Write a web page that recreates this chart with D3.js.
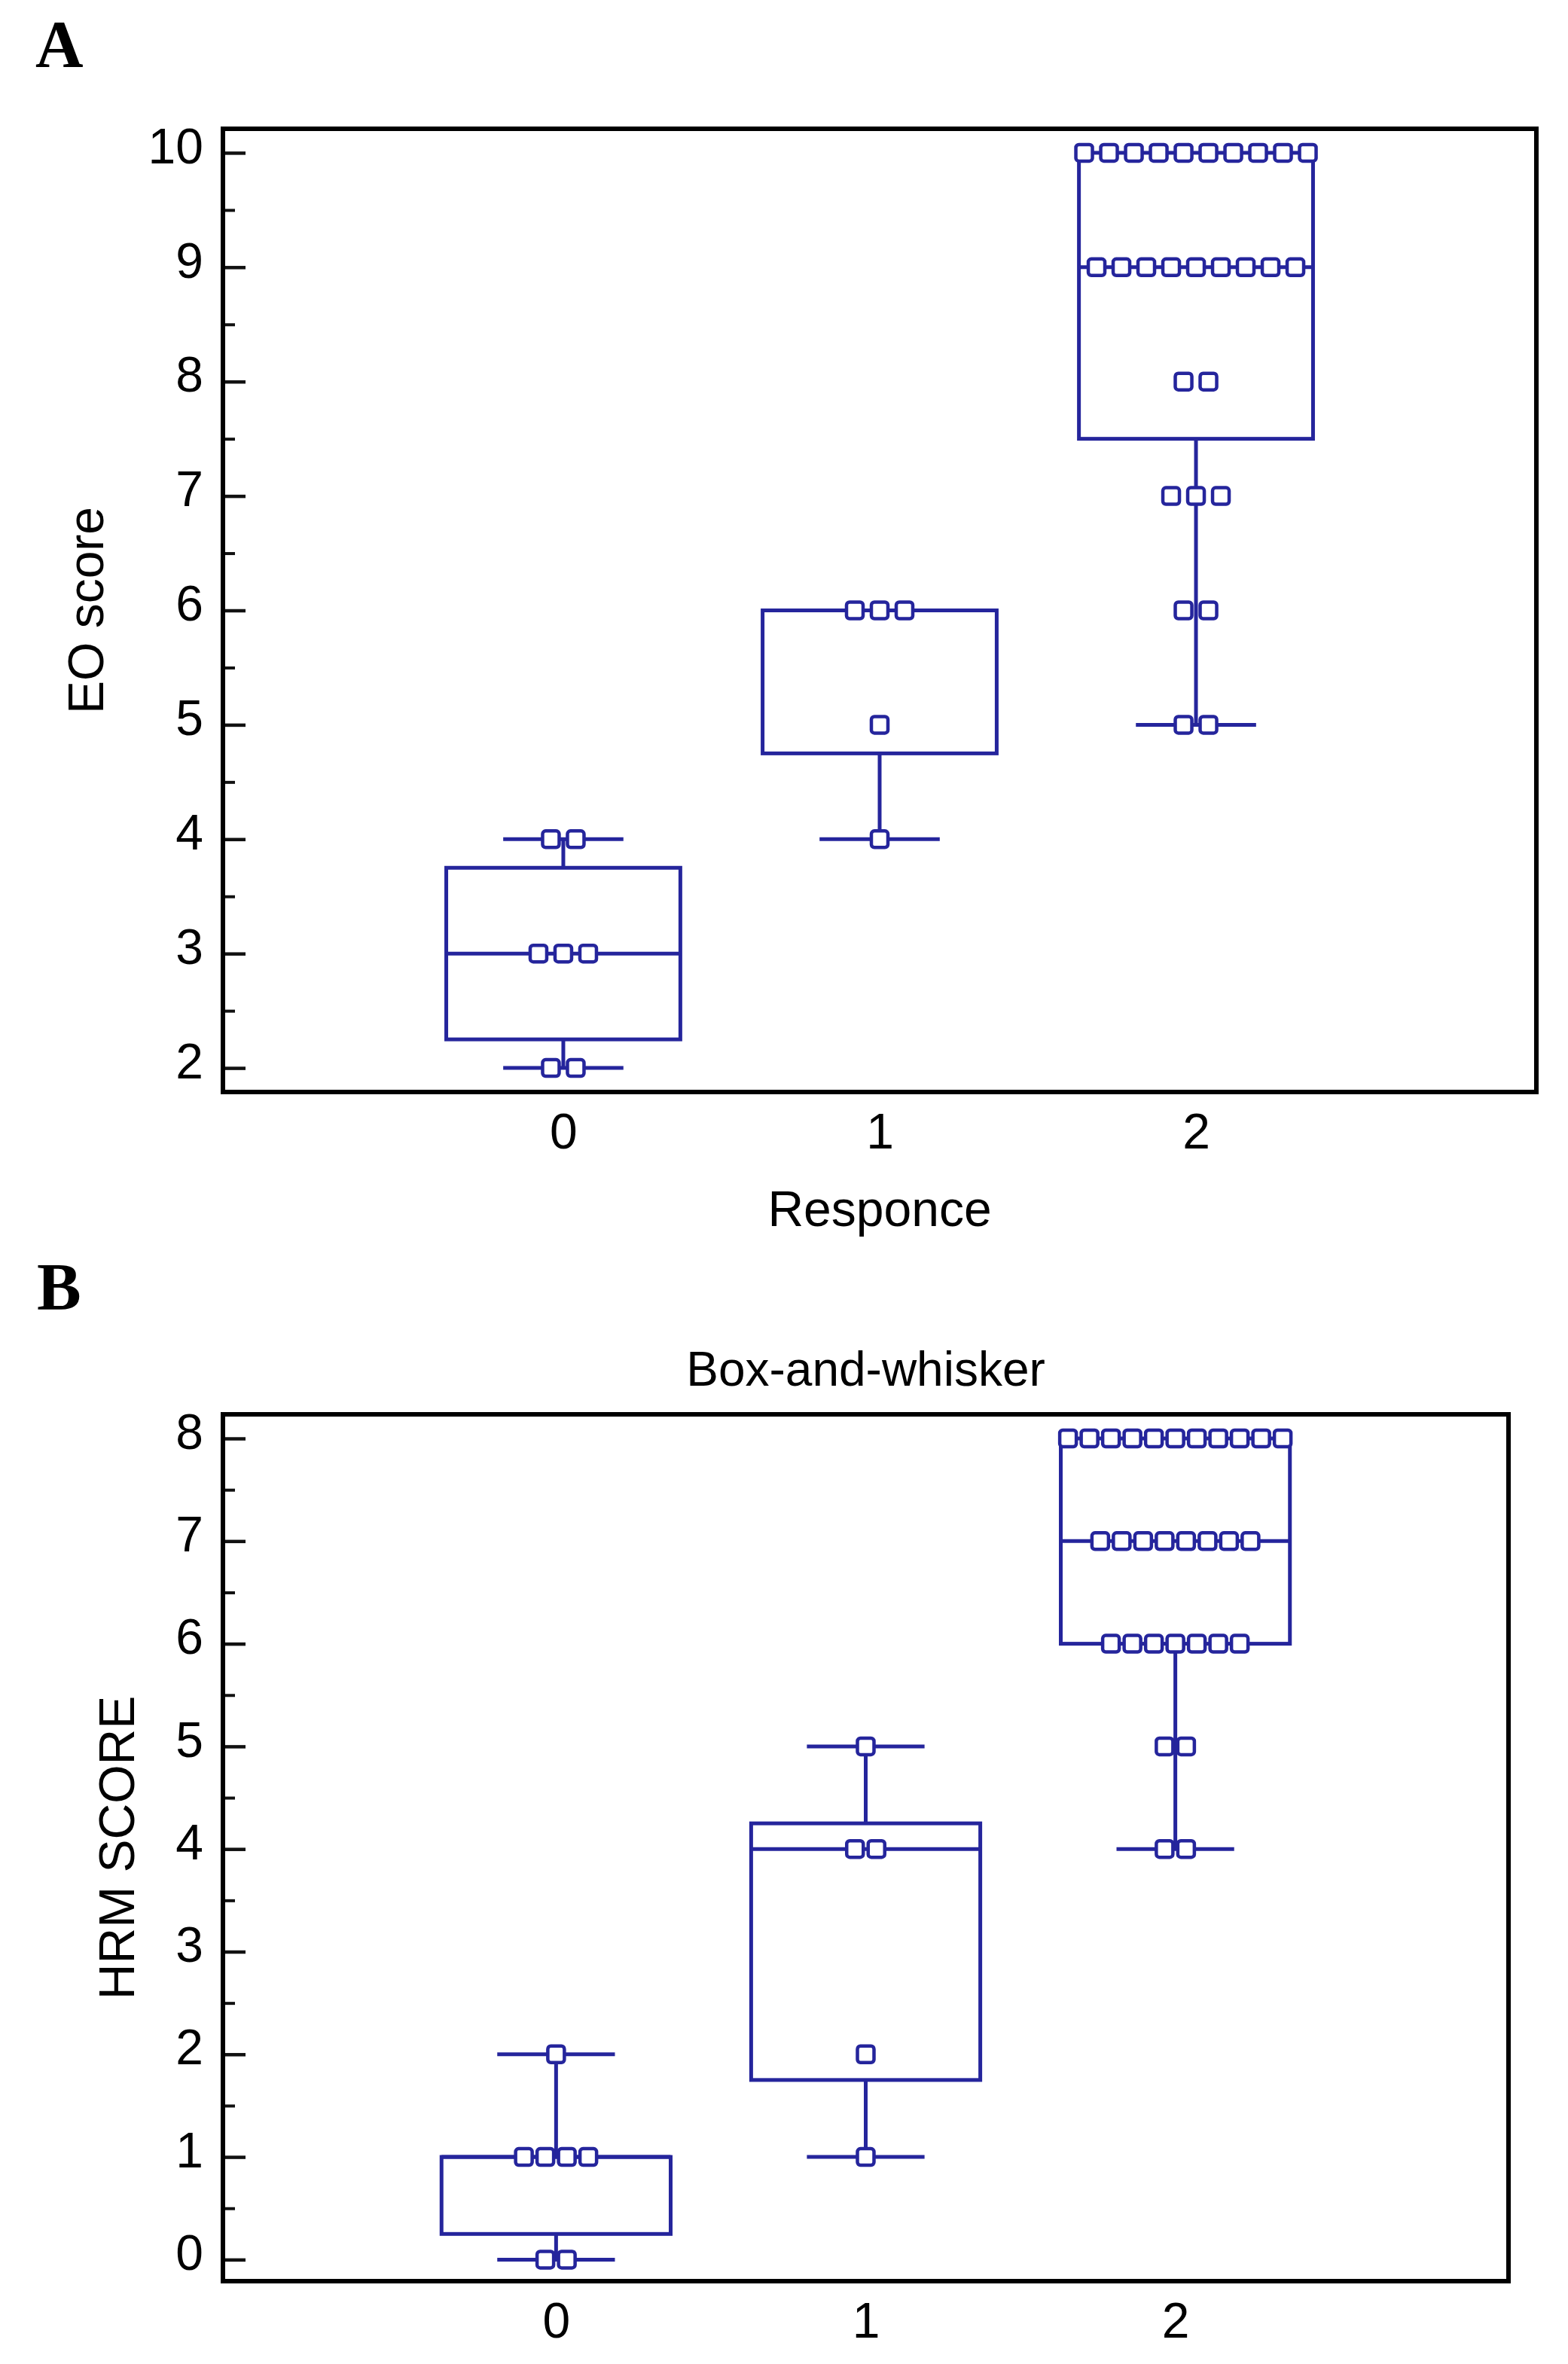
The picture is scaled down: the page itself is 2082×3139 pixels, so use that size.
<!DOCTYPE html>
<html>
<head>
<meta charset="utf-8">
<script src="https://cdn.jsdelivr.net/npm/d3@7"></script>
<style>
  body { margin: 0; background: #fff; }
</style>
</head>
<body>
<div class="chart"></div>
<script>
// categories (Responce groups)
var categories = ['0', '1', '2'];

// panel A: EO score
var eoQ1 = [2.25, 4.75, 7.5];
var eoMedian = [3, 6, 9];
var eoQ3 = [3.75, 6, 10];
var eoMin = [2, 4, 5];
var eoMax = [4, 6, 10];
var eoValues = [[2, 3, 4], [4, 5, 6], [5, 6, 7, 8, 9, 10]];
var eoCounts = [[2, 3, 2], [1, 1, 3], [2, 2, 3, 2, 9, 10]];
var eoTicks = [2, 3, 4, 5, 6, 7, 8, 9, 10];

// panel B: HRM SCORE
var hrmQ1 = [0.25, 1.75, 6];
var hrmMedian = [1, 4, 7];
var hrmQ3 = [1, 4.25, 8];
var hrmMin = [0, 1, 4];
var hrmMax = [2, 5, 8];
var hrmValues = [[0, 1, 2], [1, 2, 4, 5], [4, 5, 6, 7, 8]];
var hrmCounts = [[2, 4, 1], [1, 1, 2, 1], [2, 2, 7, 8, 11]];
var hrmTicks = [0, 1, 2, 3, 4, 5, 6, 7, 8];

var svgWidth = 2082;
var svgHeight = 3139;
var blue = '#25259c';
var sans = '"Liberation Sans", Arial, sans-serif';

var svg = d3.select('.chart').append('svg')
    .attr('width', svgWidth)
    .attr('height', svgHeight);

svg.append('rect').attr('width', svgWidth).attr('height', svgHeight).attr('fill', '#fff');

function drawPanel(p) {
    var g = svg.append('g');

    var x = d3.scalePoint().domain(categories).range([p.left, p.right]).padding(1.076);
    var y = d3.scaleLinear().domain(p.yDomain).range([p.bottom, p.top]);
    var step = x.step();
    var boxHalf = step * 0.37;
    var capHalf = step * 0.19;

    // minor ticks
    var minor = p.ticks.slice(0, -1).map(function(d) { return d + 0.5; });
    g.append('g')
        .attr('transform', 'translate(' + p.left + ',0)')
        .call(d3.axisLeft(y).tickValues(minor).tickSize(-16).tickFormat(''))
        .call(function(a) {
            a.select('.domain').remove();
            a.selectAll('line').attr('stroke', '#111').attr('stroke-width', 4);
        });

    // major ticks + labels
    g.append('g')
        .attr('transform', 'translate(' + p.left + ',0)')
        .call(d3.axisLeft(y).tickValues(p.ticks).tickSize(-30).tickPadding(26).tickFormat(d3.format('d')))
        .call(function(a) {
            a.select('.domain').remove();
            a.selectAll('line').attr('stroke', '#111').attr('stroke-width', 4.5);
            a.selectAll('text')
                .attr('font-size', 66)
                .attr('font-family', sans)
                .attr('fill', '#000')
                .attr('dy', '0.2em');
        });

    // x axis labels
    g.append('g')
        .attr('transform', 'translate(0,' + p.bottom + ')')
        .call(d3.axisBottom(x).tickSize(0).tickPadding(28))
        .call(function(a) {
            a.select('.domain').remove();
            a.selectAll('text')
                .attr('font-size', 66)
                .attr('font-family', sans)
                .attr('fill', '#000');
        });

    // frame
    g.append('rect')
        .attr('x', p.left)
        .attr('y', p.top)
        .attr('width', p.right - p.left)
        .attr('height', p.bottom - p.top)
        .attr('fill', 'none')
        .attr('stroke', '#000')
        .attr('stroke-width', 6);

    var boxes = g.selectAll('g.box')
        .data(categories)
        .enter()
        .append('g')
        .attr('class', 'box')
        .attr('fill', 'none')
        .attr('stroke', blue)
        .attr('stroke-width', 5);

    // lower whisker
    boxes.filter(function(d, i) { return p.min[i] < p.q1[i]; })
        .each(function(d) {
            var i = categories.indexOf(d);
            var b = d3.select(this);
            b.append('line')
                .attr('x1', x(d)).attr('x2', x(d))
                .attr('y1', y(p.q1[i])).attr('y2', y(p.min[i]));
            b.append('line')
                .attr('x1', x(d) - capHalf).attr('x2', x(d) + capHalf)
                .attr('y1', y(p.min[i])).attr('y2', y(p.min[i]));
        });

    // upper whisker
    boxes.filter(function(d, i) { return p.max[i] > p.q3[i]; })
        .each(function(d) {
            var i = categories.indexOf(d);
            var b = d3.select(this);
            b.append('line')
                .attr('x1', x(d)).attr('x2', x(d))
                .attr('y1', y(p.q3[i])).attr('y2', y(p.max[i]));
            b.append('line')
                .attr('x1', x(d) - capHalf).attr('x2', x(d) + capHalf)
                .attr('y1', y(p.max[i])).attr('y2', y(p.max[i]));
        });

    boxes.append('rect')
        .attr('x', function(d) { return x(d) - boxHalf; })
        .attr('y', function(d, i) { return y(p.q3[i]); })
        .attr('width', boxHalf * 2)
        .attr('height', function(d, i) { return y(p.q1[i]) - y(p.q3[i]); });

    boxes.append('line')
        .attr('x1', function(d) { return x(d) - boxHalf; })
        .attr('x2', function(d) { return x(d) + boxHalf; })
        .attr('y1', function(d, i) { return y(p.median[i]); })
        .attr('y2', function(d, i) { return y(p.median[i]); });

    // data points, stacked side by side
    var points = [];
    categories.forEach(function(c, i) {
        p.values[i].forEach(function(v, j) {
            var n = p.counts[i][j];
            for (var k = 0; k < n; k++) {
                points.push({ cat: c, value: v, offset: (k - (n - 1) / 2) * p.spacing });
            }
        });
    });

    g.selectAll('rect.pt')
        .data(points)
        .enter()
        .append('rect')
        .attr('class', 'pt')
        .attr('x', function(d) { return x(d.cat) + d.offset - 11; })
        .attr('y', function(d) { return y(d.value) - 11; })
        .attr('width', 22)
        .attr('height', 22)
        .attr('rx', 4)
        .attr('fill', '#fff')
        .attr('stroke', blue)
        .attr('stroke-width', 4.5);

    // axis titles
    g.append('text')
        .text(p.yTitle)
        .attr('transform', 'translate(' + p.yTitleX + ',' + (p.top + p.bottom) / 2 + ') rotate(-90)')
        .attr('text-anchor', 'middle')
        .attr('font-family', sans)
        .attr('font-size', 66);

    if (p.xTitle) {
        g.append('text')
            .text(p.xTitle)
            .attr('x', (p.left + p.right) / 2)
            .attr('y', p.xTitleY)
            .attr('text-anchor', 'middle')
            .attr('font-family', sans)
            .attr('font-size', 66);
    }
    if (p.title) {
        g.append('text')
            .text(p.title)
            .attr('x', (p.left + p.right) / 2)
            .attr('y', p.titleY)
            .attr('text-anchor', 'middle')
            .attr('font-family', sans)
            .attr('font-size', 64);
    }

    svg.append('text')
        .text(p.letter)
        .attr('x', p.letterX)
        .attr('y', p.letterY)
        .attr('font-family', '"Liberation Serif", "Times New Roman", serif')
        .attr('font-weight', 'bold')
        .attr('font-size', 88);
}

drawPanel({
    left: 296, right: 2040, top: 171, bottom: 1450,
    yDomain: [1.79, 10.21], ticks: eoTicks,
    q1: eoQ1, median: eoMedian, q3: eoQ3, min: eoMin, max: eoMax,
    values: eoValues, counts: eoCounts, spacing: 33,
    yTitle: 'EO score', yTitleX: 137,
    xTitle: 'Responce', xTitleY: 1628,
    letter: 'A', letterX: 47, letterY: 88
});

drawPanel({
    left: 296, right: 2003, top: 1878, bottom: 3029,
    yDomain: [-0.21, 8.235], ticks: hrmTicks,
    q1: hrmQ1, median: hrmMedian, q3: hrmQ3, min: hrmMin, max: hrmMax,
    values: hrmValues, counts: hrmCounts, spacing: 28.5,
    yTitle: 'HRM SCORE', yTitleX: 178,
    title: 'Box-and-whisker', titleY: 1840,
    letter: 'B', letterX: 49, letterY: 1738
});
</script>
</body>
</html>
